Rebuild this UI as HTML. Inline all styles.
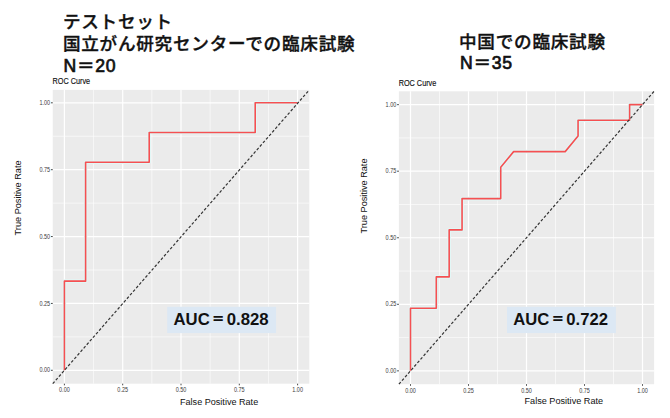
<!DOCTYPE html>
<html><head><meta charset="utf-8">
<style>
html,body{margin:0;padding:0;background:#fff;}
body{width:670px;height:418px;overflow:hidden;position:relative;}
svg{position:absolute;left:0;top:0;}
.tk{font-family:"Liberation Sans",sans-serif;font-size:6.4px;fill:#3A3A3A;}
.ax{font-family:"Liberation Sans",sans-serif;font-size:9.6px;fill:#111;}
.ti{font-family:"Liberation Sans",sans-serif;font-size:8.6px;fill:#111;stroke:#111;stroke-width:0.15px;}
.jp{font-family:"Liberation Sans","Noto Sans CJK JP",sans-serif;font-size:17.6px;font-weight:500;fill:#111;letter-spacing:0.75px;stroke:#111;stroke-width:0.35px;}
.lat{font-weight:400;stroke-width:0.7px;}
.eq{font-family:"Liberation Sans","NanumGothic","Noto Sans CJK JP",sans-serif;font-weight:700;stroke-width:0;}
.auc{font-family:"Liberation Sans","Noto Sans CJK JP",sans-serif;font-size:17px;font-weight:500;fill:#111;stroke:#111;stroke-width:0.35px;}
</style></head><body>
<svg width="670" height="418" viewBox="0 0 670 418">
<rect x="52.74" y="89.9" width="256.56" height="293.8" fill="#EBEBEB"/>
<line x1="93.55" y1="89.9" x2="93.55" y2="383.7" stroke="#fff" stroke-width="0.6"/>
<line x1="52.74" y1="336.86" x2="309.3" y2="336.86" stroke="#fff" stroke-width="0.6"/>
<line x1="151.85" y1="89.9" x2="151.85" y2="383.7" stroke="#fff" stroke-width="0.6"/>
<line x1="52.74" y1="269.99" x2="309.3" y2="269.99" stroke="#fff" stroke-width="0.6"/>
<line x1="210.15" y1="89.9" x2="210.15" y2="383.7" stroke="#fff" stroke-width="0.6"/>
<line x1="52.74" y1="203.11" x2="309.3" y2="203.11" stroke="#fff" stroke-width="0.6"/>
<line x1="268.45" y1="89.9" x2="268.45" y2="383.7" stroke="#fff" stroke-width="0.6"/>
<line x1="52.74" y1="136.24" x2="309.3" y2="136.24" stroke="#fff" stroke-width="0.6"/>
<line x1="64.4" y1="89.9" x2="64.4" y2="383.7" stroke="#fff" stroke-width="1.2"/>
<line x1="52.74" y1="370.3" x2="309.3" y2="370.3" stroke="#fff" stroke-width="1.2"/>
<line x1="64.4" y1="383.7" x2="64.4" y2="385.3" stroke="#333" stroke-width="0.9"/>
<line x1="50.94" y1="370.3" x2="52.74" y2="370.3" stroke="#333" stroke-width="0.9"/>
<text x="64.4" y="392.1" class="tk" text-anchor="middle" textLength="10.70" lengthAdjust="spacingAndGlyphs">0.00</text>
<text x="50.14" y="372.4" class="tk" text-anchor="end" textLength="10.70" lengthAdjust="spacingAndGlyphs">0.00</text>
<line x1="122.7" y1="89.9" x2="122.7" y2="383.7" stroke="#fff" stroke-width="1.2"/>
<line x1="52.74" y1="303.43" x2="309.3" y2="303.43" stroke="#fff" stroke-width="1.2"/>
<line x1="122.7" y1="383.7" x2="122.7" y2="385.3" stroke="#333" stroke-width="0.9"/>
<line x1="50.94" y1="303.43" x2="52.74" y2="303.43" stroke="#333" stroke-width="0.9"/>
<text x="122.7" y="392.1" class="tk" text-anchor="middle" textLength="10.70" lengthAdjust="spacingAndGlyphs">0.25</text>
<text x="50.14" y="305.53" class="tk" text-anchor="end" textLength="10.70" lengthAdjust="spacingAndGlyphs">0.25</text>
<line x1="181" y1="89.9" x2="181" y2="383.7" stroke="#fff" stroke-width="1.2"/>
<line x1="52.74" y1="236.55" x2="309.3" y2="236.55" stroke="#fff" stroke-width="1.2"/>
<line x1="181" y1="383.7" x2="181" y2="385.3" stroke="#333" stroke-width="0.9"/>
<line x1="50.94" y1="236.55" x2="52.74" y2="236.55" stroke="#333" stroke-width="0.9"/>
<text x="181" y="392.1" class="tk" text-anchor="middle" textLength="10.70" lengthAdjust="spacingAndGlyphs">0.50</text>
<text x="50.14" y="238.65" class="tk" text-anchor="end" textLength="10.70" lengthAdjust="spacingAndGlyphs">0.50</text>
<line x1="239.3" y1="89.9" x2="239.3" y2="383.7" stroke="#fff" stroke-width="1.2"/>
<line x1="52.74" y1="169.68" x2="309.3" y2="169.68" stroke="#fff" stroke-width="1.2"/>
<line x1="239.3" y1="383.7" x2="239.3" y2="385.3" stroke="#333" stroke-width="0.9"/>
<line x1="50.94" y1="169.68" x2="52.74" y2="169.68" stroke="#333" stroke-width="0.9"/>
<text x="239.3" y="392.1" class="tk" text-anchor="middle" textLength="10.70" lengthAdjust="spacingAndGlyphs">0.75</text>
<text x="50.14" y="171.78" class="tk" text-anchor="end" textLength="10.70" lengthAdjust="spacingAndGlyphs">0.75</text>
<line x1="297.6" y1="89.9" x2="297.6" y2="383.7" stroke="#fff" stroke-width="1.2"/>
<line x1="52.74" y1="102.8" x2="309.3" y2="102.8" stroke="#fff" stroke-width="1.2"/>
<line x1="297.6" y1="383.7" x2="297.6" y2="385.3" stroke="#333" stroke-width="0.9"/>
<line x1="50.94" y1="102.8" x2="52.74" y2="102.8" stroke="#333" stroke-width="0.9"/>
<text x="297.6" y="392.1" class="tk" text-anchor="middle" textLength="10.70" lengthAdjust="spacingAndGlyphs">1.00</text>
<text x="50.14" y="104.9" class="tk" text-anchor="end" textLength="10.70" lengthAdjust="spacingAndGlyphs">1.00</text>
<path d="M64.4,370.3 L64.4,281.13 L85.6,281.13 L85.6,162.24 L149.2,162.24 L149.2,132.52 L255.2,132.52 L255.2,102.8 L297.6,102.8" fill="none" stroke="#E2F7F6" stroke-width="3.6" stroke-linejoin="round"/>
<path d="M64.4,370.3 L64.4,281.13 L85.6,281.13 L85.6,162.24 L149.2,162.24 L149.2,132.52 L255.2,132.52 L255.2,102.8 L297.6,102.8" fill="none" stroke="#F55052" stroke-width="1.6" stroke-linejoin="round"/>
<line x1="52.74" y1="383.7" x2="309.3" y2="89.9" stroke="#333" stroke-width="1.2" stroke-dasharray="2.8 1.9"/>
<text x="52.5" y="84" class="ti" textLength="37.6" lengthAdjust="spacingAndGlyphs">ROC Curve</text>
<text x="180" y="405" class="ax" textLength="78.2" lengthAdjust="spacingAndGlyphs">False Positive Rate</text>
<text transform="translate(20.9,197.9) rotate(-90)" class="ax" text-anchor="middle" textLength="75.0" lengthAdjust="spacingAndGlyphs">True Positive Rate</text>
<rect x="398.9" y="91.3" width="255.2" height="292.9" fill="#EBEBEB"/>
<line x1="439.5" y1="91.3" x2="439.5" y2="384.2" stroke="#fff" stroke-width="0.6"/>
<line x1="398.9" y1="337.58" x2="654.1" y2="337.58" stroke="#fff" stroke-width="0.6"/>
<line x1="497.5" y1="91.3" x2="497.5" y2="384.2" stroke="#fff" stroke-width="0.6"/>
<line x1="398.9" y1="271.03" x2="654.1" y2="271.03" stroke="#fff" stroke-width="0.6"/>
<line x1="555.5" y1="91.3" x2="555.5" y2="384.2" stroke="#fff" stroke-width="0.6"/>
<line x1="398.9" y1="204.48" x2="654.1" y2="204.48" stroke="#fff" stroke-width="0.6"/>
<line x1="613.5" y1="91.3" x2="613.5" y2="384.2" stroke="#fff" stroke-width="0.6"/>
<line x1="398.9" y1="137.93" x2="654.1" y2="137.93" stroke="#fff" stroke-width="0.6"/>
<line x1="410.5" y1="91.3" x2="410.5" y2="384.2" stroke="#fff" stroke-width="1.2"/>
<line x1="398.9" y1="370.85" x2="654.1" y2="370.85" stroke="#fff" stroke-width="1.2"/>
<line x1="410.5" y1="384.2" x2="410.5" y2="385.8" stroke="#333" stroke-width="0.9"/>
<line x1="397.1" y1="370.85" x2="398.9" y2="370.85" stroke="#333" stroke-width="0.9"/>
<text x="410.5" y="392.6" class="tk" text-anchor="middle" textLength="10.70" lengthAdjust="spacingAndGlyphs">0.00</text>
<text x="396.3" y="372.95" class="tk" text-anchor="end" textLength="10.70" lengthAdjust="spacingAndGlyphs">0.00</text>
<line x1="468.5" y1="91.3" x2="468.5" y2="384.2" stroke="#fff" stroke-width="1.2"/>
<line x1="398.9" y1="304.3" x2="654.1" y2="304.3" stroke="#fff" stroke-width="1.2"/>
<line x1="468.5" y1="384.2" x2="468.5" y2="385.8" stroke="#333" stroke-width="0.9"/>
<line x1="397.1" y1="304.3" x2="398.9" y2="304.3" stroke="#333" stroke-width="0.9"/>
<text x="468.5" y="392.6" class="tk" text-anchor="middle" textLength="10.70" lengthAdjust="spacingAndGlyphs">0.25</text>
<text x="396.3" y="306.4" class="tk" text-anchor="end" textLength="10.70" lengthAdjust="spacingAndGlyphs">0.25</text>
<line x1="526.5" y1="91.3" x2="526.5" y2="384.2" stroke="#fff" stroke-width="1.2"/>
<line x1="398.9" y1="237.75" x2="654.1" y2="237.75" stroke="#fff" stroke-width="1.2"/>
<line x1="526.5" y1="384.2" x2="526.5" y2="385.8" stroke="#333" stroke-width="0.9"/>
<line x1="397.1" y1="237.75" x2="398.9" y2="237.75" stroke="#333" stroke-width="0.9"/>
<text x="526.5" y="392.6" class="tk" text-anchor="middle" textLength="10.70" lengthAdjust="spacingAndGlyphs">0.50</text>
<text x="396.3" y="239.85" class="tk" text-anchor="end" textLength="10.70" lengthAdjust="spacingAndGlyphs">0.50</text>
<line x1="584.5" y1="91.3" x2="584.5" y2="384.2" stroke="#fff" stroke-width="1.2"/>
<line x1="398.9" y1="171.2" x2="654.1" y2="171.2" stroke="#fff" stroke-width="1.2"/>
<line x1="584.5" y1="384.2" x2="584.5" y2="385.8" stroke="#333" stroke-width="0.9"/>
<line x1="397.1" y1="171.2" x2="398.9" y2="171.2" stroke="#333" stroke-width="0.9"/>
<text x="584.5" y="392.6" class="tk" text-anchor="middle" textLength="10.70" lengthAdjust="spacingAndGlyphs">0.75</text>
<text x="396.3" y="173.3" class="tk" text-anchor="end" textLength="10.70" lengthAdjust="spacingAndGlyphs">0.75</text>
<line x1="642.5" y1="91.3" x2="642.5" y2="384.2" stroke="#fff" stroke-width="1.2"/>
<line x1="398.9" y1="104.65" x2="654.1" y2="104.65" stroke="#fff" stroke-width="1.2"/>
<line x1="642.5" y1="384.2" x2="642.5" y2="385.8" stroke="#333" stroke-width="0.9"/>
<line x1="397.1" y1="104.65" x2="398.9" y2="104.65" stroke="#333" stroke-width="0.9"/>
<text x="642.5" y="392.6" class="tk" text-anchor="middle" textLength="10.70" lengthAdjust="spacingAndGlyphs">1.00</text>
<text x="396.3" y="106.75" class="tk" text-anchor="end" textLength="10.70" lengthAdjust="spacingAndGlyphs">1.00</text>
<path d="M410.5,370.85 L410.5,308.21 L436.28,308.21 L436.28,276.9 L449.17,276.9 L449.17,229.92 L462.06,229.92 L462.06,198.6 L500.72,198.6 L500.72,167.29 L513.61,151.63 L565.17,151.63 L578.06,135.97 L578.06,120.31 L629.61,120.31 L629.61,104.65 L642.5,104.65" fill="none" stroke="#E2F7F6" stroke-width="3.6" stroke-linejoin="round"/>
<path d="M410.5,370.85 L410.5,308.21 L436.28,308.21 L436.28,276.9 L449.17,276.9 L449.17,229.92 L462.06,229.92 L462.06,198.6 L500.72,198.6 L500.72,167.29 L513.61,151.63 L565.17,151.63 L578.06,135.97 L578.06,120.31 L629.61,120.31 L629.61,104.65 L642.5,104.65" fill="none" stroke="#F55052" stroke-width="1.6" stroke-linejoin="round"/>
<line x1="398.9" y1="384.2" x2="654.1" y2="91.3" stroke="#333" stroke-width="1.2" stroke-dasharray="2.8 1.9"/>
<text x="398.7" y="86.4" class="ti" textLength="37.6" lengthAdjust="spacingAndGlyphs">ROC Curve</text>
<text x="524.5" y="404.3" class="ax" textLength="78.6" lengthAdjust="spacingAndGlyphs">False Positive Rate</text>
<text transform="translate(367,196) rotate(-90)" class="ax" text-anchor="middle" textLength="75.0" lengthAdjust="spacingAndGlyphs">True Positive Rate</text>
<rect x="167.2" y="306.8" width="108.9" height="26.3" fill="#DCE8F4"/>
<text transform="translate(173.5,324.7) scale(0.985,1)" class="auc"><tspan font-weight="700" stroke-width="0">AUC</tspan><tspan class="eq" dx="0.8">＝</tspan><tspan font-weight="700" stroke-width="0" dx="0.5">0.828</tspan></text>
<rect x="507" y="306.8" width="108.9" height="26.3" fill="#DCE8F4"/>
<text transform="translate(513.3,324.9) scale(0.98,1)" class="auc"><tspan font-weight="700" stroke-width="0">AUC</tspan><tspan class="eq" dx="0.8">＝</tspan><tspan font-weight="700" stroke-width="0" dx="0.5">0.722</tspan></text>
<text x="62.9" y="28.1" class="jp">テストセット</text>
<text x="62.9" y="50.1" class="jp">国立がん研究センターでの臨床試験</text>
<text x="63.5" y="72" class="jp"><tspan class="lat">N</tspan>＝<tspan class="lat">20</tspan></text>
<text x="459" y="48.3" class="jp">中国での臨床試験</text>
<text x="460" y="68.8" class="jp"><tspan class="lat">N</tspan>＝<tspan class="lat">35</tspan></text>
</svg>
</body></html>
